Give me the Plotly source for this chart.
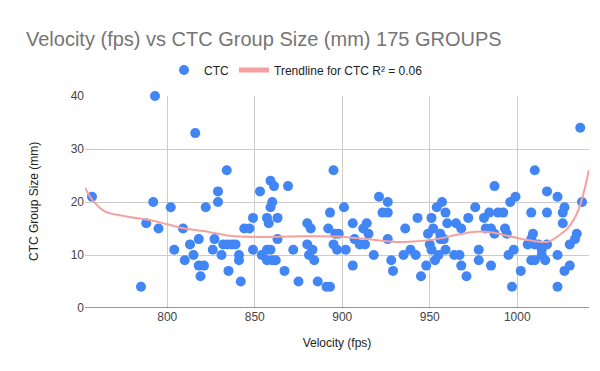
import plotly.graph_objects as go

# Scatter data (velocity fps, CTC group size mm)
velocity = [
    793, 816, 757, 792, 802, 822, 788, 795, 809, 818, 827, 813, 804, 826, 815, 810, 818, 821, 819, 785,
    834, 829, 829, 831, 832, 834.5, 837, 839, 835, 841, 841, 842, 844, 847, 849, 849, 853, 859, 861,
    860, 859, 857, 858, 863, 863, 869, 854, 857, 859, 857, 860, 862, 867, 872, 875, 880, 882, 880,
    883, 881, 884, 886, 891, 893, 895, 893, 892, 896, 895, 897,
    898, 901, 902, 906, 907, 906, 910, 913, 912, 914, 915, 918, 921, 926, 923, 926, 926, 928, 929,
    936, 935, 939, 942, 943, 945, 948, 949, 951, 952, 954, 957, 959, 960, 950, 951, 953, 955, 956,
    956, 958, 959, 964, 965, 967, 968, 968,
    971, 972, 976, 978, 978, 981, 982, 984, 985, 987, 985, 987, 989, 992, 993, 994, 995, 998, 996,
    999, 997, 1002, 1010, 1008, 1009, 1008, 1006, 1010, 1012, 1008, 1010, 1014, 1014, 1016, 1017,
    1017, 1017, 1023, 1027, 1026, 1026, 1023, 1023, 1027, 1030, 1030, 1033, 1034, 1036, 1037,
]
group_size = [
    40, 33, 21, 20, 19, 19, 16, 15, 15, 13, 13, 12, 11, 11, 10, 9, 8, 8, 6, 4,
    26, 22, 20, 10, 12, 12, 12, 12, 7, 10, 9, 5, 15, 15, 17, 11, 22, 24, 23,
    20, 19, 17, 16, 17, 13, 23, 10, 11, 11, 9, 9, 9, 7, 11, 5, 16, 15, 12,
    11, 10, 9, 5, 4, 4, 26, 18, 15, 14, 12, 11,
    14, 19, 11, 16, 13, 8, 12, 12, 15, 16, 14, 10, 21, 20, 18, 18, 13, 9, 7,
    15, 10, 11, 10, 17, 6, 8, 14, 17, 15, 19, 20, 18, 16, 12, 11, 9, 10, 14,
    13, 13, 11, 10, 16, 10, 8, 15,
    6, 17, 19, 11, 9, 17, 15, 18, 15, 14, 8, 23, 18, 18, 15, 14, 10, 11, 20,
    21, 4, 7, 26, 18, 14, 13, 12, 12, 12, 9, 9, 11, 10, 9, 12,
    22, 18, 21, 19, 18, 16, 10, 4, 7, 8, 12, 13, 14, 34, 20,
]

# Trendline (polynomial)
trend_x = [753, 757, 764, 776, 791, 800, 810, 823, 834, 850, 870, 897, 914, 929, 938, 952,
           967, 976, 985, 1000, 1010, 1017.5, 1023, 1029, 1034.7, 1041]
trend_y = [22.7, 20.5, 18.3, 17.3, 16.5, 15.8, 15.0, 14.4, 13.7, 13.4, 13.5, 13.5, 13.0, 12.5,
           12.5, 12.9, 13.9, 14.4, 14.3, 13.2, 12.6, 12.5, 13.5, 15.1, 18.3, 26.1]

x_ticks = [800, 850, 900, 950, 1000]
y_ticks = [0, 10, 20, 30, 40]

FONT = "Liberation Sans, Arial, sans-serif"
TREND_COLOR = "#F6A0A0"

L, R, T, B = 77, 19, 88, 71
PW, PH = 600 - L - R, 371 - T - B

fig = go.Figure()
fig.add_trace(go.Scatter(
    x=velocity, y=group_size, mode="markers", name="CTC",
    marker=dict(color="#4285F4", size=10),
    cliponaxis=False,
))
fig.add_trace(go.Scatter(
    x=trend_x, y=trend_y, mode="lines", name="Trendline for CTC R² = 0.06",
    line=dict(color=TREND_COLOR, width=2, shape="spline", smoothing=1.0),
    showlegend=False,
))
# legend entry with a thicker swatch, like the reference
fig.add_trace(go.Scatter(
    x=[None], y=[None], mode="lines", name="Trendline for CTC R² = 0.06",
    line=dict(color=TREND_COLOR, width=5),
))

fig.update_layout(
    width=600, height=371,
    margin=dict(l=L, r=R, t=T, b=B),
    plot_bgcolor="white", paper_bgcolor="white",
    font=dict(family=FONT, size=12, color="#222222"),
    title=dict(
        text="Velocity (fps) vs CTC Group Size (mm) 175 GROUPS",
        x=18 / 600, xanchor="left", xref="container",
        y=1 - 31 / 371, yanchor="middle", yref="container",
        font=dict(family=FONT, size=20, color="#757575"),
    ),
    legend=dict(
        orientation="h", x=(288 - L) / PW, xanchor="center",
        y=1.0 + (T - 62) / PH, yanchor="middle",
        font=dict(family=FONT, size=12, color="#222222"),
    ),
    showlegend=True,
    annotations=[dict(
        text="CTC Group Size (mm)", textangle=-90, showarrow=False,
        xref="paper", yref="paper", x=(26 - L) / PW, y=0.5,
        xanchor="center", yanchor="middle",
        font=dict(family=FONT, size=12, color="#222222"),
    )],
)
fig.update_xaxes(
    range=[753, 1041], tickvals=x_ticks, showgrid=True, gridcolor="#CCCCCC",
    zeroline=False, showline=False, ticks="",
    title=dict(text="Velocity (fps)", font=dict(size=12, family=FONT, color="#222222")),
    tickfont=dict(size=12, color="#444444"),
)
fig.update_yaxes(
    range=[0, 40], tickvals=y_ticks, showgrid=True, gridcolor="#CCCCCC",
    zeroline=False, showline=False, ticks="",
    tickfont=dict(size=12, color="#444444"),
)
# x axis baseline at y = 0
fig.add_shape(type="line", xref="paper", yref="y", x0=0, x1=1, y0=0, y1=0,
              line=dict(color="#333333", width=1))

fig.write_html("out.html")
